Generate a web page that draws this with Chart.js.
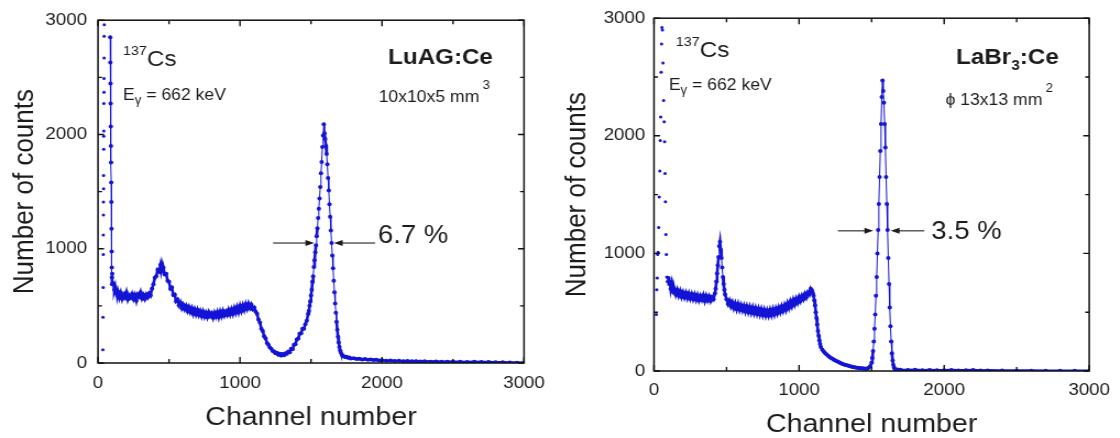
<!DOCTYPE html>
<html>
<head>
<meta charset="utf-8">
<script src="https://cdn.jsdelivr.net/npm/chart.js@4.4.1/dist/chart.umd.min.js"></script>
<style>
  html, body { margin: 0; padding: 0; background: #fff; }
  body { width: 1120px; height: 438px; position: relative; overflow: hidden; }
  canvas.panel { position: absolute; top: 0; transform-origin: 0 0; }
</style>
</head>
<body>
<canvas id="luag" class="panel"></canvas>
<canvas id="labr" class="panel"></canvas>
<script>
// the reference picture is stretched sideways a bit, so draw narrow and scale in x
const SX = 1.1
const PANEL_H = 438
const CANVAS_W = Math.round(560 / SX)
const INK = "#1c1c1c"
const DOT = "#1414d6"

const channelTicks = [0, 1000, 2000, 3000]
const countTicks = [0, 1000, 2000, 3000]
const minorTicks = [500, 1500, 2500]

// LuAG:Ce, 137Cs spectrum  [channel, counts]
const luagThreshold = [
  [34, 115], [35, 400], [36, 660], [37, 950], [37, 1120], [38, 1295], [38, 1410], [39, 1525],
  [39, 1640], [40, 1870], [40, 1985], [41, 2030], [41, 2270], [42, 2370], [42, 2490],
  [43, 2670], [43, 2860], [44, 2960]
]
const luagSpectrum = [
  [86, 2850], [87, 2630], [88, 2445], [89, 2270], [90, 2070], [91, 1900], [92, 1755], [93, 1580],
  [94, 1410], [95, 1175], [96, 975], [97, 835], [98, 750], [99, 690],
  [100, 780], [105, 700], [110, 690], [115, 640], [120, 665], [125, 610], [130, 640], [135, 590],
  [140, 625], [150, 570], [160, 615], [170, 560], [180, 600], [190, 575], [200, 620], [210, 555],
  [220, 590], [230, 570], [240, 605], [250, 560], [260, 595], [270, 545], [280, 600], [290, 580],
  [300, 620], [310, 565], [320, 595], [330, 560], [340, 600], [350, 575], [360, 610], [370, 590],
  [380, 650], [390, 690], [400, 745], [410, 760], [420, 815], [430, 800], [440, 860], [445, 810],
  [450, 845], [455, 800], [460, 835], [470, 775], [480, 780], [490, 720], [500, 710], [510, 650],
  [520, 660], [530, 595], [540, 600], [550, 540], [560, 555], [570, 505], [580, 530], [590, 480],
  [600, 510], [610, 470], [620, 500], [630, 455], [640, 490], [650, 445], [660, 480], [670, 430],
  [680, 470], [690, 425], [700, 465], [710, 420], [720, 455], [730, 410], [740, 450], [750, 405],
  [760, 440], [770, 400], [780, 445], [790, 410], [800, 435], [810, 395], [820, 440], [830, 405],
  [840, 445], [850, 400], [860, 450], [870, 410], [880, 455], [890, 415], [900, 450], [910, 420],
  [920, 465], [930, 425], [940, 470], [950, 430], [960, 480], [970, 440], [980, 490], [990, 445],
  [1000, 500], [1010, 455], [1020, 505], [1030, 465], [1040, 515], [1050, 475], [1060, 520],
  [1070, 480], [1080, 510], [1090, 470], [1100, 485], [1110, 450], [1120, 430], [1130, 380],
  [1140, 355], [1150, 300], [1160, 280], [1170, 235], [1180, 215], [1190, 175], [1200, 160],
  [1210, 135], [1220, 125], [1230, 105], [1240, 100], [1250, 85], [1260, 90], [1270, 72],
  [1280, 80], [1290, 65], [1300, 78], [1310, 68], [1320, 85], [1330, 80], [1340, 100], [1350, 95],
  [1360, 125], [1370, 120], [1380, 160], [1390, 165], [1400, 205], [1410, 215], [1420, 255],
  [1430, 260], [1440, 300], [1450, 300], [1460, 340], [1470, 370], [1480, 430], [1485, 455],
  [1490, 500], [1495, 540], [1500, 590], [1505, 640], [1510, 710], [1515, 760], [1520, 840],
  [1525, 900], [1530, 970], [1535, 1030], [1540, 1110], [1545, 1180], [1550, 1270], [1555, 1350],
  [1560, 1440], [1565, 1540], [1570, 1660], [1575, 1760], [1580, 1890], [1585, 1990], [1590, 2090],
  [1595, 2010], [1600, 1960], [1605, 1900], [1610, 1830], [1615, 1740], [1620, 1620], [1625, 1510],
  [1630, 1390], [1635, 1280], [1640, 1160], [1645, 1050], [1650, 940], [1655, 830], [1660, 720],
  [1665, 620], [1670, 520], [1675, 440], [1680, 360], [1685, 290], [1690, 230], [1695, 180],
  [1700, 140], [1705, 110], [1710, 90], [1720, 70], [1730, 60], [1740, 52], [1750, 55], [1760, 45],
  [1770, 48], [1780, 40], [1800, 42], [1820, 35], [1840, 38], [1860, 30], [1880, 34], [1900, 28],
  [1920, 30], [1940, 26], [1960, 28], [1980, 22], [2000, 25], [2030, 20], [2060, 22], [2090, 18],
  [2120, 20], [2150, 16], [2180, 18], [2210, 15], [2240, 16], [2270, 13], [2300, 15], [2340, 12],
  [2380, 14], [2420, 11], [2460, 12], [2500, 10], [2550, 11], [2600, 9], [2650, 10], [2700, 8],
  [2750, 8], [2800, 7], [2850, 6], [2900, 4], [2950, 3], [3000, 2]
]

// LaBr3:Ce, 137Cs spectrum  [channel, counts]
const labrThreshold = [
  [16, 480], [19, 690], [22, 790], [25, 990], [28, 1010], [32, 1220], [36, 1480], [40, 1700],
  [43, 1960], [46, 2160], [49, 2540], [52, 2780], [55, 2920], [58, 2900], [62, 2620], [66, 2300],
  [70, 2120], [73, 1950], [76, 1680], [79, 1440], [82, 1160], [85, 990], [88, 800], [92, 760]
]
const labrSpectrum = [
  [100, 790], [105, 740], [110, 760], [115, 700], [120, 735], [125, 680], [130, 715], [135, 665],
  [140, 700], [150, 650], [160, 690], [170, 640], [180, 680], [190, 630], [200, 670], [210, 625],
  [220, 665], [230, 620], [240, 660], [250, 615], [260, 655], [270, 610], [280, 650], [290, 605],
  [300, 645], [310, 600], [320, 640], [330, 605], [340, 645], [350, 595], [360, 640], [370, 600],
  [380, 635], [390, 595], [400, 630], [410, 610], [420, 660], [425, 700], [430, 760], [435, 830],
  [440, 900], [445, 970], [450, 1060], [455, 1100], [460, 1030], [465, 960], [470, 880], [475, 800],
  [480, 740], [485, 690], [490, 650], [500, 610], [510, 570], [520, 600], [530, 550], [540, 585],
  [550, 535], [560, 575], [570, 525], [580, 570], [590, 520], [600, 560], [610, 515], [620, 555],
  [630, 505], [640, 550], [650, 500], [660, 545], [670, 495], [680, 540], [690, 490], [700, 535],
  [710, 485], [720, 530], [730, 480], [740, 525], [750, 475], [760, 520], [770, 470], [780, 515],
  [790, 470], [800, 520], [810, 475], [820, 525], [830, 480], [840, 530], [850, 490], [860, 540],
  [870, 500], [880, 550], [890, 510], [900, 560], [910, 520], [920, 575], [930, 535], [940, 590],
  [950, 550], [960, 605], [970, 565], [980, 615], [990, 580], [1000, 630], [1010, 595], [1020, 640],
  [1030, 610], [1040, 655], [1050, 625], [1060, 670], [1070, 650], [1080, 700], [1085, 690],
  [1090, 680], [1095, 660], [1100, 640], [1105, 600], [1110, 560], [1115, 500], [1120, 450],
  [1125, 395], [1130, 340], [1135, 300], [1140, 260], [1145, 230], [1150, 205], [1160, 180],
  [1170, 165], [1180, 150], [1190, 140], [1200, 130], [1210, 120], [1220, 110], [1230, 105],
  [1240, 95], [1250, 90], [1260, 82], [1270, 78], [1280, 70], [1290, 66], [1300, 60], [1310, 56],
  [1320, 52], [1330, 48], [1340, 44], [1350, 40], [1360, 38], [1370, 34], [1380, 32], [1390, 30],
  [1400, 28], [1410, 26], [1420, 25], [1430, 22], [1440, 24], [1450, 20], [1460, 22], [1470, 20],
  [1480, 28], [1490, 40], [1500, 70], [1505, 110], [1510, 170], [1515, 250], [1520, 360],
  [1525, 480], [1530, 640], [1535, 800], [1540, 1000], [1545, 1200], [1550, 1420], [1555, 1650],
  [1560, 1870], [1565, 2100], [1570, 2330], [1575, 2470], [1580, 2380], [1585, 2280], [1590, 2100],
  [1595, 1900], [1600, 1650], [1605, 1420], [1610, 1200], [1615, 960], [1620, 740], [1625, 540],
  [1630, 380], [1635, 250], [1640, 150], [1645, 90], [1650, 50], [1655, 30], [1660, 18], [1680, 12],
  [1700, 10], [1750, 8], [1800, 10], [1850, 7], [1900, 8], [1950, 6], [2000, 7], [2050, 9],
  [2100, 5], [2150, 6], [2200, 8], [2250, 4], [2300, 5], [2400, 4], [2500, 3], [2600, 3],
  [2700, 2], [2800, 2], [2900, 2], [3000, 1]
]

// FWHM markers: arrow height and arrow extents in channels
const luagFwhm = { level: 1050, leftArrow: [1233, 1523], rightArrow: [1951, 1661], label: "6.7 %", labelAt: [1971, 1050] }
const labrFwhm = { level: 1192, leftArrow: [1268, 1511], rightArrow: [1863, 1632], label: "3.5 %", labelAt: [1912, 1124] }

const FONT = "'Liberation Sans', Arial, sans-serif"
Chart.defaults.font.family = FONT

function fontOf(p) {
  return (p.bold ? "bold " : "") + p.size + "px " + FONT
}

function drawRich(ctx, x, y, parts, align) {
  let w = 0
  parts.forEach(p => { ctx.font = fontOf(p); w += ctx.measureText(p.t).width + (p.dx || 0) })
  let cx = align === "right" ? x - w : x
  parts.forEach(p => {
    ctx.font = fontOf(p)
    cx += p.dx || 0
    ctx.fillText(p.t, cx, y + (p.dy || 0))
    cx += ctx.measureText(p.t).width
  })
}

function drawArrow(ctx, x1, x2, y) {
  const dir = Math.sign(x2 - x1)
  ctx.beginPath()
  ctx.moveTo(x1, y)
  ctx.lineTo(x2 - dir * 7, y)
  ctx.stroke()
  ctx.beginPath()
  ctx.moveTo(x2, y)
  ctx.lineTo(x2 - dir * 8, y - 3)
  ctx.lineTo(x2 - dir * 8, y + 3)
  ctx.closePath()
  ctx.fill()
}

// frame with inward ticks on all four sides
const frameTicks = {
  id: "frameTicks",
  afterDraw(chart) {
    const { ctx, chartArea: a, scales: { x, y } } = chart
    ctx.save()
    ctx.strokeStyle = "#111"
    ctx.lineWidth = 1.5
    ctx.strokeRect(a.left, a.top, a.right - a.left, a.bottom - a.top)
    ctx.lineWidth = 1.4
    ctx.beginPath()
    channelTicks.map(v => [v, 6]).concat(minorTicks.map(v => [v, 4])).forEach(([v, len]) => {
      const px = x.getPixelForValue(v)
      ctx.moveTo(px, a.bottom); ctx.lineTo(px, a.bottom - len)
      ctx.moveTo(px, a.top); ctx.lineTo(px, a.top + len)
    })
    countTicks.map(v => [v, 6]).concat(minorTicks.map(v => [v, 4])).forEach(([v, len]) => {
      const py = y.getPixelForValue(v)
      ctx.moveTo(a.left, py); ctx.lineTo(a.left + len / SX, py)
      ctx.moveTo(a.right, py); ctx.lineTo(a.right - len / SX, py)
    })
    ctx.stroke()
    ctx.restore()
  }
}

function notesPlugin(notes, fwhm) {
  return {
    id: "notes",
    afterDatasetsDraw(chart) {
      const { ctx, scales: { x, y } } = chart
      ctx.save()
      ctx.fillStyle = INK
      ctx.strokeStyle = "#333"
      ctx.lineWidth = 1.2
      ctx.textBaseline = "alphabetic"
      notes.forEach(n => drawRich(ctx, x.getPixelForValue(n.at[0]), y.getPixelForValue(n.at[1]), n.parts, n.align))
      const ay = y.getPixelForValue(fwhm.level)
      drawArrow(ctx, x.getPixelForValue(fwhm.leftArrow[0]), x.getPixelForValue(fwhm.leftArrow[1]), ay)
      drawArrow(ctx, x.getPixelForValue(fwhm.rightArrow[0]), x.getPixelForValue(fwhm.rightArrow[1]), ay)
      drawRich(ctx, x.getPixelForValue(fwhm.labelAt[0]), y.getPixelForValue(fwhm.labelAt[1]), [{ t: fwhm.label, size: 25 }])
      ctx.restore()
    }
  }
}

function makePanel(id, offsetX, box, datasets, notes, fwhm) {
  const canvas = document.getElementById(id)
  canvas.width = CANVAS_W
  canvas.height = PANEL_H
  canvas.style.left = offsetX + "px"
  canvas.style.transform = "scaleX(" + SX + ")"

  const yAxisW = (box.left - offsetX) / SX
  const rightPad = CANVAS_W - (box.right - offsetX) / SX
  const xAxisH = PANEL_H - box.bottom

  return new Chart(canvas, {
    type: "scatter",
    data: { datasets },
    options: {
      responsive: false,
      animation: false,
      events: [],
      layout: { padding: { left: 0, right: rightPad, top: box.top, bottom: 0 } },
      plugins: { legend: { display: false }, tooltip: { enabled: false } },
      scales: {
        x: {
          type: "linear", min: 0, max: 3000,
          afterBuildTicks: s => { s.ticks = channelTicks.map(v => ({ value: v })) },
          grid: { display: false, drawTicks: false },
          border: { display: false },
          ticks: { color: INK, font: { size: 17 }, padding: box.xLabelPad, maxRotation: 0, callback: v => String(v) },
          title: { display: true, text: "Channel number", color: INK, font: { size: 26, lineHeight: 1 }, padding: { top: 0, bottom: box.xTitlePad } },
          afterFit: s => { s.height = xAxisH }
        },
        y: {
          type: "linear", min: 0, max: 3000,
          afterBuildTicks: s => { s.ticks = countTicks.map(v => ({ value: v })) },
          grid: { display: false, drawTicks: false },
          border: { display: false },
          ticks: { color: INK, font: { size: 17 }, padding: box.yLabelPad, callback: v => String(v) },
          title: { display: true, text: "Number of counts", color: INK, font: { size: 26, lineHeight: 1 }, padding: { top: box.yTitlePad, bottom: 0 } },
          afterFit: s => { s.width = yAxisW }
        }
      }
    },
    plugins: [frameTicks, notesPlugin(notes, fwhm)]
  })
}

// dense noisy stretches get a thick trace, steep peak flanks stay thin
function spectrumSet(points) {
  return {
    data: points, showLine: true, borderColor: DOT, borderWidth: 2.6,
    segment: { borderWidth: c => Math.abs(c.p1.y - c.p0.y) > 9 ? 1 : 2.6 },
    pointRadius: 2, pointBorderWidth: 0, pointBackgroundColor: DOT
  }
}

function thresholdSet(points) {
  return { data: points, showLine: false, pointRadius: 1.5, pointBorderWidth: 0, pointBackgroundColor: DOT }
}

makePanel("luag", 0,
  { left: 98, right: 524, top: 16, bottom: 363, xLabelPad: 10, yLabelPad: 10, xTitlePad: 7, yTitlePad: 10 },
  [thresholdSet(luagThreshold), spectrumSet(luagSpectrum)],
  [
    { at: [176, 2596], parts: [{ t: "137", size: 13, dy: -11 }, { t: "Cs", size: 22 }] },
    { at: [176, 2302], parts: [{ t: "E", size: 16 }, { t: "γ", size: 12, dy: 4 }, { t: " = 662 keV", size: 16 }] },
    { at: [2781, 2617], align: "right", parts: [{ t: "LuAG:Ce", size: 22, bold: true }] },
    { at: [1976, 2286], parts: [{ t: "10x10x5 mm", size: 16 }, { t: "3", size: 12, dy: -13, dx: 3 }] }
  ],
  luagFwhm
)

makePanel("labr", 560,
  { left: 654, right: 1095, top: 15, bottom: 371, xLabelPad: 9, yLabelPad: 8, xTitlePad: 0, yTitlePad: 3 },
  [thresholdSet(labrThreshold), spectrumSet(labrSpectrum)],
  [
    { at: [151, 2669], parts: [{ t: "137", size: 13, dy: -11 }, { t: "Cs", size: 22 }] },
    { at: [102, 2387], parts: [{ t: "E", size: 16 }, { t: "γ", size: 12, dy: 4 }, { t: " = 662 keV", size: 16 }] },
    { at: [2082, 2613], parts: [{ t: "LaBr", size: 22, bold: true }, { t: "3", size: 14, bold: true, dy: 6 }, { t: ":Ce", size: 22, bold: true }] },
    { at: [2009, 2260], parts: [{ t: "ϕ 13x13 mm", size: 16 }, { t: "2", size: 12, dy: -13, dx: 3 }] }
  ],
  labrFwhm
)
</script>
</body>
</html>
